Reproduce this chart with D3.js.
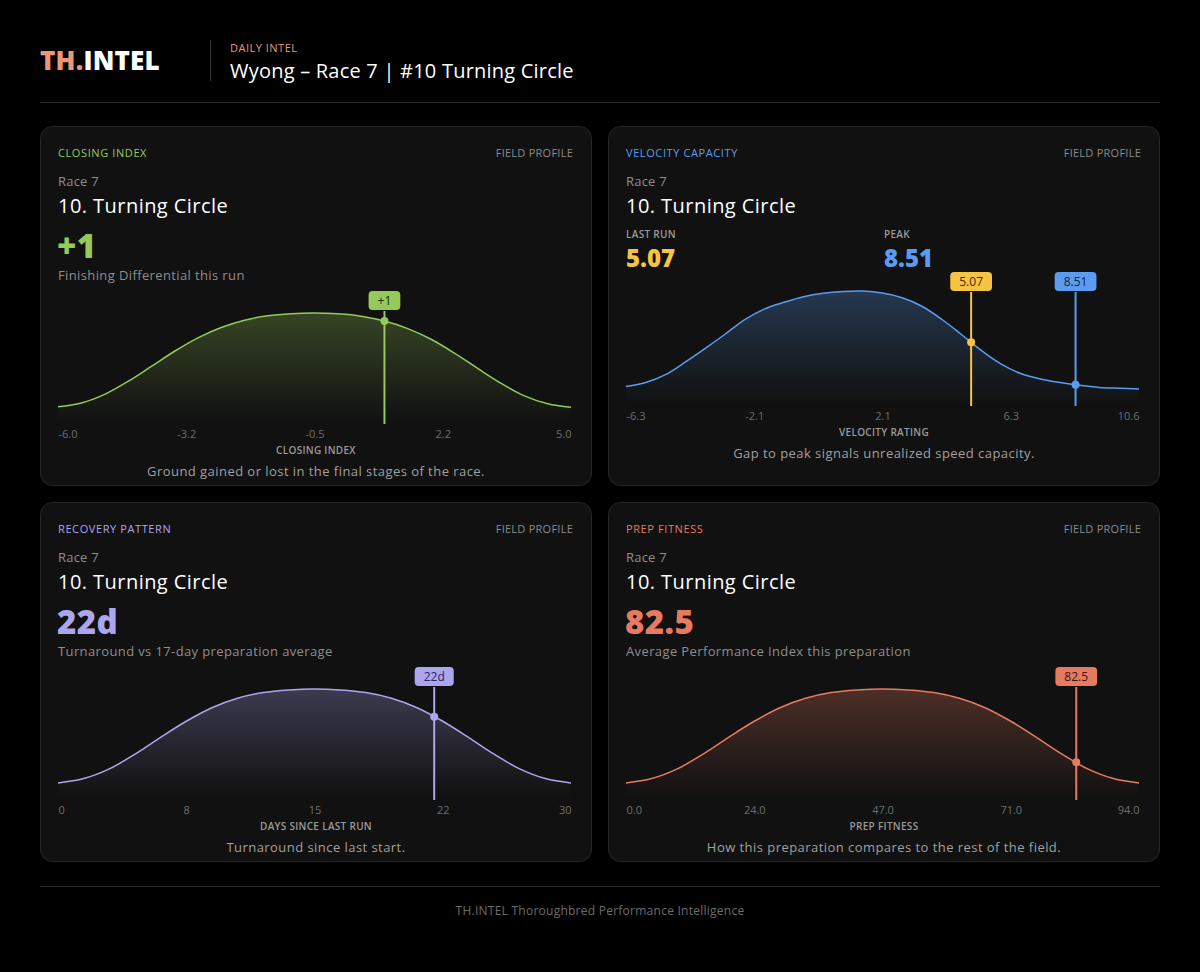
<!DOCTYPE html>
<html><head><meta charset="utf-8">
<script src="https://cdn.jsdelivr.net/npm/d3@7"></script>
<style>
body{margin:0;background:#000;}
svg{display:block;}
text{font-family:'Open Sans','DejaVu Sans',sans-serif;}
</style>
</head><body>
<svg id="c" width="1200" height="972"></svg>
<script>
// ---------- DATA ----------
const headerKicker = "DAILY INTEL";
const headerTitle = "Wyong \u2013 Race 7 | #10 Turning Circle";
const footerText = "TH.INTEL Thoroughbred Performance Intelligence";
const raceLabel = "Race 7";
const runnerName = "10. Turning Circle";

// Closing index
const closingX = [-6,-5.5,-5,-4.5,-4,-3.5,-3,-2.5,-2,-1.5,-1,-0.5,0,0.5,1,1.5,2,2.5,3,3.5,4,4.5,5];
const closingDensity = [0.139,0.175,0.254,0.372,0.51,0.649,0.772,0.867,0.934,0.975,0.994,1.0,0.992,0.971,0.926,0.857,0.759,0.632,0.491,0.355,0.24,0.168,0.135];
const closingTicks = [-6,-3.25,-0.5,2.25,5];
const closingTickLabels = ["-6.0","-3.2","-0.5","2.2","5.0"];
const closingMarker = 1;

// Velocity capacity
const velocityX = [-6.3,-5.65,-5,-4.35,-3.7,-3.05,-2.4,-1.75,-1.1,-0.45,0.2,0.85,1.5,2.15,2.8,3.45,4.1,4.75,5.4,6.05,6.7,7.35,8,8.65,9.3,9.95,10.6];
const velocityDensity = [0.154,0.19,0.26,0.37,0.49,0.615,0.745,0.84,0.90,0.95,0.98,0.995,0.999,0.982,0.94,0.865,0.75,0.615,0.475,0.355,0.27,0.222,0.19,0.165,0.147,0.14,0.133];
const velocityTicks = [-6.3,-2.075,2.15,6.375,10.6];
const velocityTickLabels = ["-6.3","-2.1","2.1","6.3","10.6"];
const velocityLastRun = 5.07;
const velocityPeak = 8.51;

// Recovery pattern
const recoveryX = [0,1.5,3,4.5,6,7.5,9,10.5,12,13.5,15,16.5,18,19.5,21,22.5,24,25.5,27,28.5,30];
const recoveryDensity = [0.138,0.178,0.267,0.402,0.557,0.704,0.828,0.915,0.967,0.991,1.0,0.991,0.967,0.915,0.828,0.704,0.557,0.402,0.267,0.178,0.138];
const recoveryTicks = [0,7.5,15,22.5,30];
const recoveryTickLabels = ["0","8","15","22","30"];
const recoveryMarker = 22;

// Prep fitness
const prepX = [0,4.7,9.4,14.1,18.8,23.5,28.2,32.9,37.6,42.3,47,51.7,56.4,61.1,65.8,70.5,75.2,79.9,84.6,89.3,94];
const prepDensity = [0.138,0.178,0.267,0.402,0.557,0.704,0.828,0.915,0.967,0.991,1.0,0.991,0.967,0.915,0.828,0.704,0.557,0.402,0.267,0.178,0.138];
const prepTicks = [0,23.5,47,70.5,94];
const prepTickLabels = ["0.0","24.0","47.0","71.0","94.0"];
const prepMarker = 82.5;

// ---------- PANELS ----------
const panels = [
  {cx:40, cy:126, tag:"CLOSING INDEX", color:"#95c95a", boxText:"#1d2a10",
   big:"+1", sub:"Finishing Differential this run", axisTitle:"CLOSING INDEX",
   caption:"Ground gained or lost in the final stages of the race.",
   xs:closingX, ds:closingDensity, ticks:closingTicks, tickLabels:closingTickLabels,
   markers:[{v:closingMarker,label:"+1",color:"#95c95a"}], type:"single"},
  {cx:608, cy:126, tag:"VELOCITY CAPACITY", color:"#5b9cf0", boxText:"#10223d",
   axisTitle:"VELOCITY RATING", caption:"Gap to peak signals unrealized speed capacity.",
   xs:velocityX, ds:velocityDensity, ticks:velocityTicks, tickLabels:velocityTickLabels,
   markers:[{v:velocityLastRun,label:"5.07",color:"#f6c443",text:"#3a2a05"},{v:velocityPeak,label:"8.51",color:"#5b9cf0",text:"#10223d"}], type:"dual"},
  {cx:40, cy:502, tag:"RECOVERY PATTERN", color:"#aca6ee", boxText:"#2b2760",
   big:"22d", sub:"Turnaround vs 17-day preparation average", axisTitle:"DAYS SINCE LAST RUN",
   caption:"Turnaround since last start.",
   xs:recoveryX, ds:recoveryDensity, ticks:recoveryTicks, tickLabels:recoveryTickLabels,
   markers:[{v:recoveryMarker,label:"22d",color:"#aca6ee"}], type:"single"},
  {cx:608, cy:502, tag:"PREP FITNESS", color:"#e57b60", boxText:"#3a150b",
   big:"82.5", sub:"Average Performance Index this preparation", axisTitle:"PREP FITNESS",
   caption:"How this preparation compares to the rest of the field.",
   xs:prepX, ds:prepDensity, ticks:prepTicks, tickLabels:prepTickLabels,
   markers:[{v:prepMarker,label:"82.5",color:"#e57b60"}], type:"single"}
];

const svg = d3.select("#c");
svg.append("rect").attr("width",1200).attr("height",972).attr("fill","#000");
const defs = svg.append("defs");

// ---------- HEADER ----------
const logo = svg.append("text").attr("x",40).attr("y",70).attr("font-size",26).attr("font-weight",800).attr("letter-spacing",0.2);
logo.append("tspan").attr("fill","#e9977b").text("TH.");
logo.append("tspan").attr("fill","#ffffff").text("INTEL");
svg.append("line").attr("x1",210.5).attr("x2",210.5).attr("y1",40).attr("y2",81).attr("stroke","#333");
svg.append("text").attr("x",230).attr("y",52).attr("font-size",11).attr("fill","#e9977b").attr("font-weight",500).attr("letter-spacing",0.5).text(headerKicker);
svg.append("text").attr("x",230).attr("y",78).attr("font-size",20).attr("fill","#fff").attr("font-weight",500).attr("letter-spacing",0.22).text(headerTitle);
svg.append("line").attr("x1",40).attr("x2",1160).attr("y1",102.5).attr("y2",102.5).attr("stroke","#262626");

// ---------- FOOTER ----------
svg.append("line").attr("x1",40).attr("x2",1160).attr("y1",886.5).attr("y2",886.5).attr("stroke","#262626");
svg.append("text").attr("x",600).attr("y",915).attr("text-anchor","middle").attr("font-size",12).attr("fill","#6c6c6c").attr("letter-spacing",0.25).text(footerText);

function interp(xs, ds, v){
  for(let i=0;i<xs.length-1;i++){
    if(v>=xs[i] && v<=xs[i+1]){
      const t=(v-xs[i])/(xs[i+1]-xs[i]);
      return ds[i]+(ds[i+1]-ds[i])*t;
    }
  }
  return ds[ds.length-1];
}

panels.forEach((p,pi)=>{
  const g = svg.append("g");
  const W = 552, H = 360;
  g.append("rect").attr("x",p.cx+0.5).attr("y",p.cy+0.5).attr("width",W-1).attr("height",H-1)
    .attr("rx",12).attr("fill","#111111").attr("stroke","#262626");
  const L = p.cx+18, R = p.cx+531;
  g.append("text").attr("x",L).attr("y",p.cy+31).attr("font-size",11).attr("fill",p.color).attr("font-weight",500).attr("letter-spacing",0.6).text(p.tag);
  g.append("text").attr("x",R+2).attr("y",p.cy+31).attr("text-anchor","end").attr("font-size",11).attr("fill","#8a8a8a").attr("font-weight",500).attr("letter-spacing",0.25).text("FIELD PROFILE");
  g.append("text").attr("x",L).attr("y",p.cy+60).attr("font-size",13).attr("fill","#8e8e8e").attr("letter-spacing",0.2).text(raceLabel);
  g.append("text").attr("x",L).attr("y",p.cy+87).attr("font-size",20).attr("fill","#fff").attr("font-weight",500).attr("letter-spacing",0.45).text(runnerName);

  let yBottom, yPeak, boxTop, tickY, titleY, capY;
  if(p.type==="single"){
    g.append("text").attr("x",L-1).attr("y",p.cy+132).attr("font-size",33).attr("font-weight",800).attr("fill",p.color).attr("letter-spacing",0.4).text(p.big);
    g.append("text").attr("x",L).attr("y",p.cy+154).attr("font-size",13).attr("fill","#8e8e8e").attr("letter-spacing",0.38).text(p.sub);
    yBottom = p.cy+296; yPeak = p.cy+187; boxTop = p.cy+165;
    tickY = p.cy+312; titleY = p.cy+328; capY = p.cy+350;
  } else {
    g.append("text").attr("x",L).attr("y",p.cy+112).attr("font-size",10).attr("fill","#9a9a9a").attr("font-weight",600).attr("letter-spacing",0.3).text("LAST RUN");
    g.append("text").attr("x",L).attr("y",p.cy+141).attr("font-size",24).attr("font-weight",800).attr("fill","#f6c443").text("5.07");
    g.append("text").attr("x",p.cx+276).attr("y",p.cy+112).attr("font-size",10).attr("fill","#9a9a9a").attr("font-weight",600).attr("letter-spacing",0.3).text("PEAK");
    g.append("text").attr("x",p.cx+276).attr("y",p.cy+141).attr("font-size",24).attr("font-weight",800).attr("fill",p.color).text("8.51");
    yBottom = p.cy+278; yPeak = p.cy+165; boxTop = p.cy+146;
    tickY = p.cy+294; titleY = p.cy+310; capY = p.cy+332;
  }

  const x = d3.scaleLinear().domain([p.xs[0], p.xs[p.xs.length-1]]).range([L, R]);
  const y = d3.scaleLinear().domain([0,1]).range([yBottom, yPeak]);

  const gid = "grad"+pi;
  const grad = defs.append("linearGradient").attr("id",gid).attr("x1",0).attr("x2",0).attr("y1",0).attr("y2",1);
  grad.append("stop").attr("offset","0%").attr("stop-color",p.color).attr("stop-opacity",0.28);
  grad.append("stop").attr("offset","100%").attr("stop-color",p.color).attr("stop-opacity",0.0);

  const pts = p.xs.map((v,i)=>({v, d:p.ds[i]}));
  const crv = d3.curveCatmullRom.alpha(0.5);
  const area = d3.area().x(d=>x(d.v)).y0(yBottom).y1(d=>y(d.d)).curve(crv);
  const line = d3.line().x(d=>x(d.v)).y(d=>y(d.d)).curve(crv);
  g.append("path").datum(pts).attr("d",area).attr("fill",`url(#${gid})`);
  g.append("path").datum(pts).attr("d",line).attr("fill","none").attr("stroke",p.color).attr("stroke-width",1.5);

  // markers
  p.markers.forEach(m=>{
    const mx = x(m.v);
    const my = y(interp(p.xs,p.ds,m.v));
    const lbl = g.append("text").attr("x",mx).attr("y",boxTop+14).attr("text-anchor","middle")
      .attr("font-size",12).attr("font-weight",500).attr("fill",m.text||p.boxText).text(m.label);
    const tw = lbl.node().getComputedTextLength();
    g.insert("rect", function(){return lbl.node();}).attr("x",mx-tw/2-9).attr("y",boxTop).attr("width",tw+18).attr("height",19)
      .attr("rx",4).attr("fill",m.color);
    g.append("line").attr("x1",mx).attr("x2",mx).attr("y1",boxTop+20).attr("y2",yBottom+2)
      .attr("stroke",m.color).attr("stroke-width",2);
    g.append("circle").attr("cx",mx).attr("cy",my).attr("r",4).attr("fill",m.color);
  });

  // axis
  const axis = d3.axisBottom(x).tickValues(p.ticks).tickSize(0).tickPadding(0)
    .tickFormat((d,i)=>p.tickLabels[i]);
  const ag = g.append("g").attr("transform",`translate(0,${tickY-9})`).call(axis);
  ag.select(".domain").remove();
  ag.selectAll("text").attr("font-size",11).attr("fill","#6e6e6e").attr("font-family","'Open Sans',sans-serif")
    .attr("dy",0).attr("y",9)
    .attr("text-anchor",(d,i)=> i===0?"start":(i===p.ticks.length-1?"end":"middle"));
  g.append("text").attr("x",p.cx+276).attr("y",titleY).attr("text-anchor","middle").attr("font-size",10)
    .attr("font-weight",600).attr("fill","#9a9a9a").attr("letter-spacing",0.3).text(p.axisTitle);
  g.append("text").attr("x",p.cx+276).attr("y",capY).attr("text-anchor","middle").attr("font-size",13)
    .attr("fill","#a0a0a0").attr("letter-spacing",0.45).text(p.caption);
});
</script>
</body></html>
